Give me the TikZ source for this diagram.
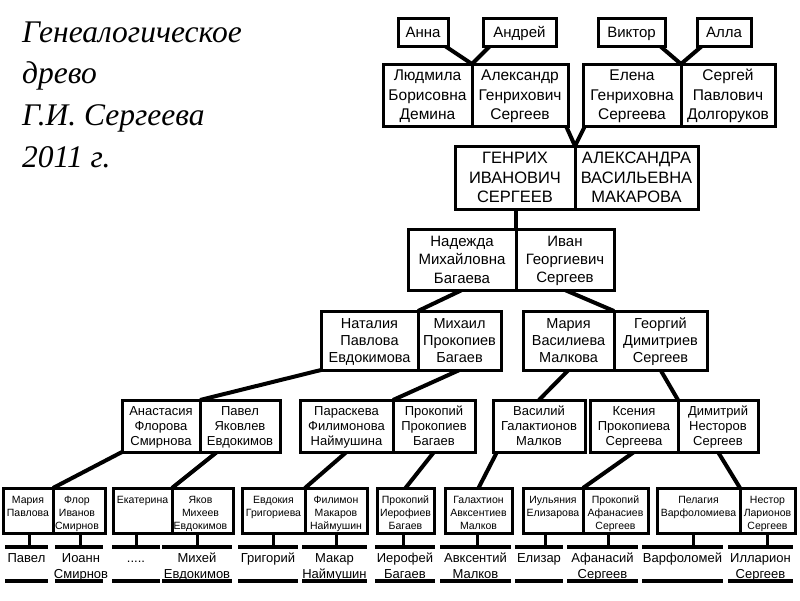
\documentclass[tikz,border=0pt]{standalone}
\usepackage{fontspec}
\setmainfont{Liberation Sans}
\newfontfamily\ttlfont{Liberation Serif}
\usetikzlibrary{backgrounds}
\newcommand\mystrut{\rule[-0.18em]{0pt}{1.08em}}
\newcommand\nl{\\\mystrut}
\tikzset{
  cell/.style={draw, line width=3pt, fill=white, inner sep=0pt, outer sep=0pt, align=center},
  r1/.style={cell, font=\fontsize{15}{18}\selectfont},
  r2/.style={cell, font=\fontsize{15.5}{19.5}\selectfont},
  r3/.style={cell, font=\fontsize{16.5}{19.5}\selectfont},
  r4/.style={cell, font=\fontsize{15}{18.3}\selectfont},
  r5/.style={cell, font=\fontsize{14.5}{17}\selectfont},
  r6/.style={cell, font=\fontsize{13}{15}\selectfont},
  r7/.style={cell},
  t7/.style={inner sep=0pt, align=center, anchor=north, font=\fontsize{10.5}{13}\selectfont},
  kid/.style={inner sep=0pt, align=center, anchor=north, font=\fontsize{13}{15.5}\selectfont},
  ttl/.style={inner sep=0pt, anchor=base west, font=\ttlfont\itshape\fontsize{31.5}{40}\selectfont},
  conn/.style={line width=4pt},
  stemline/.style={line width=3pt},
  ul/.style={line width=4pt},
}
\newcommand\pc[7]{\node[#2, minimum width={#4-#3}, minimum height={#6-#5}] (#1) at ({(#3+#4)/2},{(#5+#6)/2}) {\mystrut #7};}
\begin{document}
\begin{tikzpicture}[x=1pt,y=-1pt]
\useasboundingbox (0,0) rectangle (800,600);

% title
\node[ttl] (title1) at (22,42) {Генеалогическое};
\node[ttl] (title2) at (22,83) {древо};
\node[ttl] (title3) at (22,125) {Г.И. Сергеева};
\node[ttl] (title4) at (22,167) {2011 г.};

% row 1
\pc{anna}{r1}{398}{448}{18}{46}{Анна}
\pc{andrey}{r1}{483}{556}{18}{46}{Андрей}
\pc{viktor}{r1}{598}{665}{18}{46}{Виктор}
\pc{alla}{r1}{697}{751}{18}{46}{Алла}
% row 2
\pc{lud}{r2}{383}{472}{64}{126}{Людмила\nl Борисовна\nl Демина}
\pc{alex}{r2}{472}{568}{64}{126}{Александр\nl Генрихович\nl Сергеев}
\pc{elena}{r2}{583}{681}{64}{126}{Елена\nl Генриховна\nl Сергеева}
\pc{sergey}{r2}{681}{775}{64}{126}{Сергей\nl Павлович\nl Долгоруков}
% row 3
\pc{genrikh}{r3}{455}{575}{146}{209}{ГЕНРИХ\nl ИВАНОВИЧ\nl СЕРГЕЕВ}
\pc{alexandra}{r3}{575}{698}{146}{209}{АЛЕКСАНДРА\nl ВАСИЛЬЕВНА\nl МАКАРОВА}
% row 4
\pc{nadezhda}{r4}{408}{516}{229}{290}{Надежда\nl Михайловна\nl Багаева}
\pc{ivan}{r4}{516}{614}{229}{290}{Иван\nl Георгиевич\nl Сергеев}
% row 5
\pc{natalia}{r5}{321}{418}{311}{370}{Наталия\nl Павлова\nl Евдокимова}
\pc{mikhail}{r5}{418}{501}{311}{370}{Михаил\nl Прокопиев\nl Багаев}
\pc{mariya}{r5}{523}{614}{311}{370}{Мария\nl Василиева\nl Малкова}
\pc{georgiy}{r5}{614}{707}{311}{370}{Георгий\nl Димитриев\nl Сергеев}
% row 6
\pc{anast}{r6}{122}{200}{400}{452}{Анастасия\nl Флорова\nl Смирнова}
\pc{pavel}{r6}{200}{280}{400}{452}{Павел\nl Яковлев\nl Евдокимов}
\pc{parask}{r6}{300}{393}{400}{452}{Параскева\nl Филимонова\nl Наймушина}
\pc{prokop}{r6}{393}{475}{400}{452}{Прокопий\nl Прокопиев\nl Багаев}
\pc{vasiliy}{r6}{493}{585}{400}{452}{Василий\nl Галактионов\nl Малков}
\pc{ksenia}{r6}{590}{678}{400}{452}{Ксения\nl Прокопиева\nl Сергеева}
\pc{dimitriy}{r6}{678}{758}{400}{452}{Димитрий\nl Несторов\nl Сергеев}
% row 7 boxes
\pc{mariya7}{r7}{3}{53}{488}{533}{}
\pc{flor}{r7}{53}{105}{488}{533}{}
\pc{ekat}{r7}{113}{172}{488}{533}{}
\pc{yakov}{r7}{172}{233}{488}{533}{}
\pc{evdok}{r7}{242}{305}{488}{533}{}
\pc{filimon}{r7}{305}{367}{488}{533}{}
\pc{prokop7}{r7}{377}{434}{488}{533}{}
\pc{galakt}{r7}{445}{512}{488}{533}{}
\pc{iulyan}{r7}{523}{583}{488}{533}{}
\pc{prokopA}{r7}{583}{648}{488}{533}{}
\pc{pelag}{r7}{657}{740}{488}{533}{}
\pc{nestor}{r7}{740}{795}{488}{533}{}
% row 7 texts
\node[t7] (tmariya7) at ([yshift=-6.3pt]mariya7.north) {\mystrut Мария\nl Павлова};
\node[t7] (tflor) at ([yshift=-6.3pt,xshift=-2pt]flor.north) {\mystrut Флор\nl Иванов\nl Смирнов};
\node[t7] (tekat) at ([yshift=-6.3pt]ekat.north) {\mystrut Екатерина};
\node[t7] (tyakov) at ([yshift=-6.3pt,xshift=-2pt]yakov.north) {\mystrut Яков\nl Михеев\nl Евдокимов};
\node[t7] (tevdok) at ([yshift=-6.3pt]evdok.north) {\mystrut Евдокия\nl Григориева};
\node[t7] (tfilimon) at ([yshift=-6.3pt]filimon.north) {\mystrut Филимон\nl Макаров\nl Наймушин};
\node[t7] (tprokop7) at ([yshift=-6.3pt]prokop7.north) {\mystrut Прокопий\nl Иерофиев\nl Багаев};
\node[t7] (tgalakt) at ([yshift=-6.3pt]galakt.north) {\mystrut Галахтион\nl Авксентиев\nl Малков};
\node[t7] (tiulyan) at ([yshift=-6.3pt]iulyan.north) {\mystrut Иульяния\nl Елизарова};
\node[t7] (tprokopA) at ([yshift=-6.3pt]prokopA.north) {\mystrut Прокопий\nl Афанасиев\nl Сергеев};
\node[t7] (tpelag) at ([yshift=-6.3pt]pelag.north) {\mystrut Пелагия\nl Варфоломиева};
\node[t7] (tnestor) at ([yshift=-6.3pt]nestor.north) {\mystrut Нестор\nl Ларионов\nl Сергеев};

% children names
\node[kid] (k1) at (26.5,551) {\mystrut Павел};
\node[kid] (k2) at (81,551) {\mystrut Иоанн\nl Смирнов};
\node[kid] (k3) at (136,551) {\mystrut .....};
\node[kid] (k4) at (197,551) {\mystrut Михей\nl Евдокимов};
\node[kid] (k5) at (268,551) {\mystrut Григорий};
\node[kid] (k6) at (334.5,551) {\mystrut Макар\nl Наймушин};
\node[kid] (k7) at (405,551) {\mystrut Иерофей\nl Багаев};
\node[kid] (k8) at (475.5,551) {\mystrut Авксентий\nl Малков};
\node[kid] (k9) at (539,551) {\mystrut Елизар};
\node[kid] (k10) at (602.5,551) {\mystrut Афанасий\nl Сергеев};
\node[kid] (k11) at (682.5,551) {\mystrut Варфоломей};
\node[kid] (k12) at (760.5,551) {\mystrut Илларион\nl Сергеев};

\begin{pgfonlayer}{background}
% connectors
\draw[conn] ([xshift=-3pt]anna.south east) -- (lud.north east);
\draw[conn] ([xshift=7pt]andrey.south west) -- (lud.north east);
\draw[conn] ([xshift=-5pt]viktor.south east) -- (elena.north east);
\draw[conn] ([xshift=5pt]alla.south west) -- (elena.north east);
\draw[conn] ([xshift=-2pt]alex.south east) -- (genrikh.north east);
\draw[conn] ([xshift=2pt]elena.south west) -- (genrikh.north east);
\draw[conn] (nadezhda.north east |- genrikh.south) -- (nadezhda.north east);
\draw[conn] (nadezhda.south) -- (natalia.north east);
\draw[conn] (ivan.south) -- (mariya.north east);
\draw[conn] (natalia.south west) -- (anast.north east);
\draw[conn] (mikhail.south) -- (parask.north east);
\draw[conn] (mariya.south) -- (vasiliy.north);
\draw[conn] (georgiy.south) -- (ksenia.north east);
\draw[conn] (anast.south west) -- (mariya7.north east);
\draw[conn] ([xshift=17pt]pavel.south west) -- (ekat.north east);
\draw[conn] (parask.south) -- (evdok.north east);
\draw[conn] (prokop.south) -- (prokop7.north);
\draw[conn] ([xshift=4pt]vasiliy.south west) -- (galakt.north);
\draw[conn] (ksenia.south) -- (iulyan.north east);
\draw[conn] (dimitriy.south) -- (pelag.north east);
% stems
\draw[stemline] ([xshift=1pt]mariya7.south) -- ++(0,14);
\draw[stemline] ([xshift=1pt]flor.south) -- ++(0,14);
\draw[stemline] ([xshift=-6pt]ekat.south) -- ++(0,14);
\draw[stemline] ([xshift=-5pt]yakov.south) -- ++(0,14);
\draw[stemline] (evdok.south) -- ++(0,14);
\draw[stemline] (filimon.south) -- ++(0,14);
\draw[stemline] ([xshift=-2pt]prokop7.south) -- ++(0,14);
\draw[stemline] ([xshift=-1pt]galakt.south) -- ++(0,14);
\draw[stemline] ([xshift=-8pt]iulyan.south) -- ++(0,14);
\draw[stemline] ([xshift=-7pt]prokopA.south) -- ++(0,14);
\draw[stemline] ([xshift=-5pt]pelag.south) -- ++(0,14);
\draw[stemline] (nestor.south) -- ++(0,14);
\end{pgfonlayer}

% underlines
\foreach \a/\b in {5/48, 55/103, 112/160, 162/232, 238/298, 302/367, 375/435, 440/511, 515/563, 567/638, 642/723, 728/793} {
  \draw[ul] (\a,547) -- (\b,547);
  \draw[ul] (\a,581) -- (\b,581);
}
\end{tikzpicture}
\end{document}
